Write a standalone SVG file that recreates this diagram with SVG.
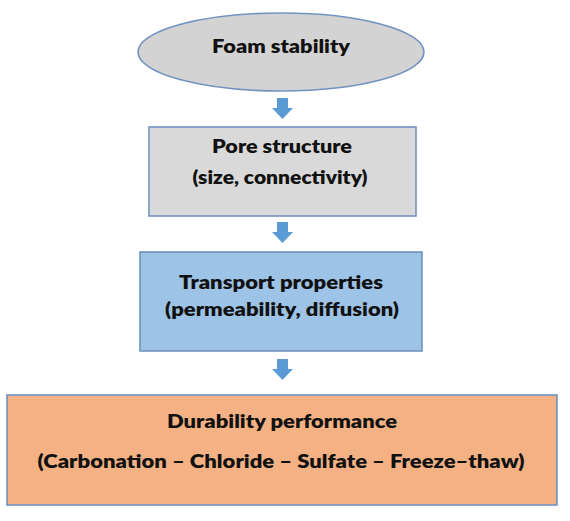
<svg xmlns="http://www.w3.org/2000/svg" width="570" height="521" viewBox="0 0 570 521">
<style>
text{font-family:Lato,"Open Sans","Liberation Sans",sans-serif;font-weight:800;font-size:18px;fill:#111;text-anchor:middle}
.box{stroke:#7193c0;stroke-width:1.6}
.arrow{fill:#5b9bd5}
</style>
<rect width="570" height="521" fill="#ffffff"/>
<g id="foam">
<ellipse cx="281" cy="52" rx="143" ry="39" fill="#d3d3d3" class="box"/>
<text x="281" y="53" textLength="138" lengthAdjust="spacingAndGlyphs">Foam stability</text>
</g>
<g id="pore">
<rect x="149" y="127" width="267" height="89" fill="#d9d9d9" class="box"/>
<text x="282" y="153" textLength="140" lengthAdjust="spacingAndGlyphs">Pore structure</text>
<text x="280" y="184" textLength="175" lengthAdjust="spacingAndGlyphs">(size, connectivity)</text>
</g>
<g id="transport">
<rect x="140" y="252" width="282" height="99" fill="#9dc3e6" class="box"/>
<text x="281" y="289" textLength="204" lengthAdjust="spacingAndGlyphs">Transport properties</text>
<text x="282" y="316" textLength="234" lengthAdjust="spacingAndGlyphs">(permeability, diffusion)</text>
</g>
<g id="durability">
<rect x="7" y="395" width="550" height="110" fill="#f4b183" class="box"/>
<text x="282" y="428" textLength="230" lengthAdjust="spacingAndGlyphs">Durability performance</text>
<text x="281" y="468" textLength="487" lengthAdjust="spacingAndGlyphs">(Carbonation – Chloride – Sulfate – Freeze–thaw)</text>
</g>
<g id="connectors">
<polygon class="arrow" points="277,98 288,98 288,108 293,108 282.5,119 272,108 277,108"/>
<polygon class="arrow" points="277,222 288,222 288,232 293,232 282.5,243 272,232 277,232"/>
<polygon class="arrow" points="277,359 288,359 288,369 293,369 282.5,380 272,369 277,369"/>
</g>
</svg>
